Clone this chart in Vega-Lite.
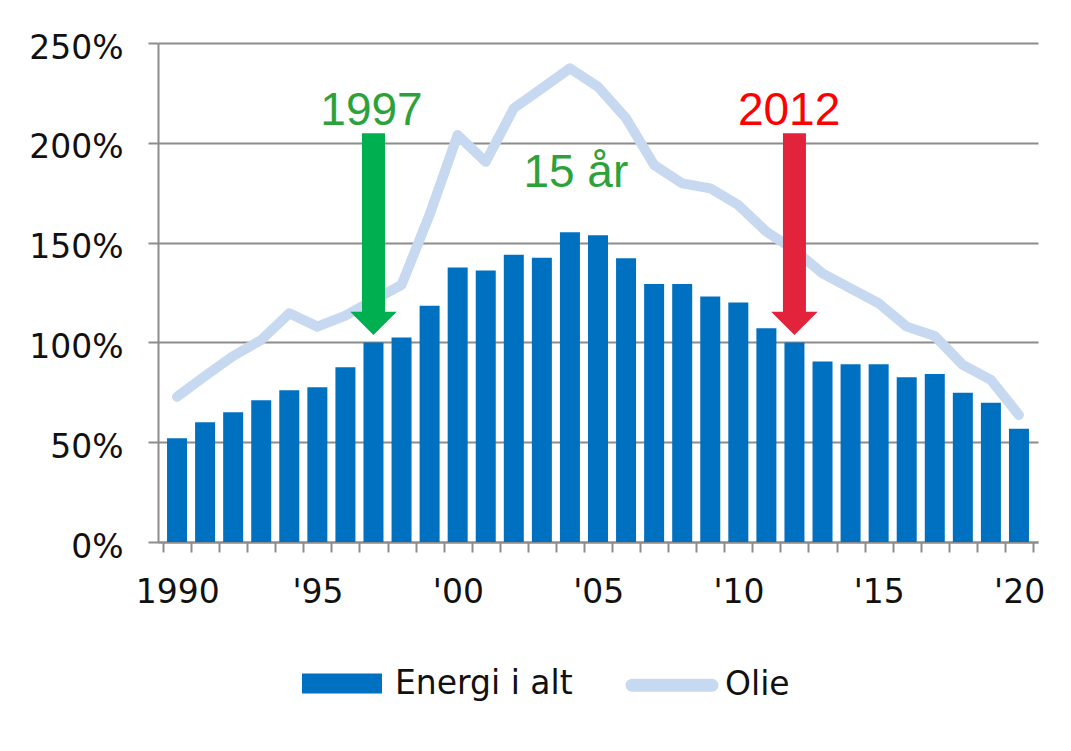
{
  "$schema": "https://vega.github.io/schema/vega-lite/v6.json",
  "width": 880,
  "height": 499,
  "autosize": {"type": "none"},
  "padding": {"left": 158, "top": 43, "right": 33, "bottom": 209},
  "background": "white",
  "config": {"view": {"stroke": null}, "font": "DejaVu Sans"},
  "datasets": {
    "main": [
      {"year": 1990, "series": "Energi i alt", "value": 52},
      {"year": 1991, "series": "Energi i alt", "value": 60},
      {"year": 1992, "series": "Energi i alt", "value": 65},
      {"year": 1993, "series": "Energi i alt", "value": 71},
      {"year": 1994, "series": "Energi i alt", "value": 76},
      {"year": 1995, "series": "Energi i alt", "value": 77.5},
      {"year": 1996, "series": "Energi i alt", "value": 87.6},
      {"year": 1997, "series": "Energi i alt", "value": 100},
      {"year": 1998, "series": "Energi i alt", "value": 102.5},
      {"year": 1999, "series": "Energi i alt", "value": 118.3},
      {"year": 2000, "series": "Energi i alt", "value": 137.5},
      {"year": 2001, "series": "Energi i alt", "value": 136},
      {"year": 2002, "series": "Energi i alt", "value": 143.9},
      {"year": 2003, "series": "Energi i alt", "value": 142.4},
      {"year": 2004, "series": "Energi i alt", "value": 155.2},
      {"year": 2005, "series": "Energi i alt", "value": 153.7},
      {"year": 2006, "series": "Energi i alt", "value": 142.2},
      {"year": 2007, "series": "Energi i alt", "value": 129.3},
      {"year": 2008, "series": "Energi i alt", "value": 129.3},
      {"year": 2009, "series": "Energi i alt", "value": 123},
      {"year": 2010, "series": "Energi i alt", "value": 120},
      {"year": 2011, "series": "Energi i alt", "value": 107.1},
      {"year": 2012, "series": "Energi i alt", "value": 100},
      {"year": 2013, "series": "Energi i alt", "value": 90.4},
      {"year": 2014, "series": "Energi i alt", "value": 89.1},
      {"year": 2015, "series": "Energi i alt", "value": 89.1},
      {"year": 2016, "series": "Energi i alt", "value": 82.5},
      {"year": 2017, "series": "Energi i alt", "value": 84.2},
      {"year": 2018, "series": "Energi i alt", "value": 74.8},
      {"year": 2019, "series": "Energi i alt", "value": 69.8},
      {"year": 2020, "series": "Energi i alt", "value": 56.8},
      {"year": 1990, "series": "Olie", "value": 72.8},
      {"year": 1991, "series": "Olie", "value": 83.2},
      {"year": 1992, "series": "Olie", "value": 93.2},
      {"year": 1993, "series": "Olie", "value": 101.2},
      {"year": 1994, "series": "Olie", "value": 114.6},
      {"year": 1995, "series": "Olie", "value": 107.9},
      {"year": 1996, "series": "Olie", "value": 113.4},
      {"year": 1997, "series": "Olie", "value": 121.2},
      {"year": 1998, "series": "Olie", "value": 128.8},
      {"year": 1999, "series": "Olie", "value": 164},
      {"year": 2000, "series": "Olie", "value": 203.9},
      {"year": 2001, "series": "Olie", "value": 190.5},
      {"year": 2002, "series": "Olie", "value": 217.3},
      {"year": 2003, "series": "Olie", "value": 227.3},
      {"year": 2004, "series": "Olie", "value": 237.3},
      {"year": 2005, "series": "Olie", "value": 228.1},
      {"year": 2006, "series": "Olie", "value": 212.3},
      {"year": 2007, "series": "Olie", "value": 188.9},
      {"year": 2008, "series": "Olie", "value": 179.7},
      {"year": 2009, "series": "Olie", "value": 177.2},
      {"year": 2010, "series": "Olie", "value": 168.8},
      {"year": 2011, "series": "Olie", "value": 155.5},
      {"year": 2012, "series": "Olie", "value": 146.3},
      {"year": 2013, "series": "Olie", "value": 134.6},
      {"year": 2014, "series": "Olie", "value": 127.1},
      {"year": 2015, "series": "Olie", "value": 119.6},
      {"year": 2016, "series": "Olie", "value": 107.9},
      {"year": 2017, "series": "Olie", "value": 103.2},
      {"year": 2018, "series": "Olie", "value": 88.7},
      {"year": 2019, "series": "Olie", "value": 81.2},
      {"year": 2020, "series": "Olie", "value": 63.6}
    ]
  },
  "layer": [
    {
      "data": {"name": "main"},
      "transform": [{"filter": "datum.series === 'Energi i alt'"}],
      "mark": {"type": "bar", "size": 20, "color": "#0070c0"},
      "encoding": {
        "x": {
          "field": "year", "type": "quantitative",
          "scale": {"domain": [1989.5, 2020.5], "nice": false, "zero": false},
          "axis": {
            "title": null,
            "tickCount": 60,
            "values": [1989.5, 1990.5, 1991.5, 1992.5, 1993.5, 1994.5, 1995.5, 1996.5, 1997.5, 1998.5, 1999.5, 2000.5, 2001.5, 2002.5, 2003.5, 2004.5, 2005.5, 2006.5, 2007.5, 2008.5, 2009.5, 2010.5, 2011.5, 2012.5, 2013.5, 2014.5, 2015.5, 2016.5, 2017.5, 2018.5, 2019.5, 2020.5],
            "labelExpr": "datum.value % 5 == 4.5 ? (datum.value == 1989.5 ? '1990' : \"'\" + substring(toString(datum.value + 0.5), 2, 4)) : ''",
            "labelOffset": 14.2,
            "grid": false,
            "domainColor": "#8c8c8c", "domainWidth": 2,
            "tickColor": "#8c8c8c", "tickWidth": 2, "tickSize": 10,
            "labelFontSize": 33, "labelFont": "DejaVu Sans", "labelColor": "#111111",
            "labelPadding": 24, "labelOverlap": false, "labelFlush": false, "labelBound": false
          }
        },
        "y": {
          "field": "value", "type": "quantitative",
          "scale": {"domain": [0, 250], "nice": false},
          "axis": {
            "title": null,
            "values": [0, 50, 100, 150, 200, 250],
            "labelExpr": "datum.value + '%'",
            "grid": true, "gridColor": "#8c8c8c", "gridWidth": 2,
            "domainColor": "#8c8c8c", "domainWidth": 2,
            "tickColor": "#8c8c8c", "tickWidth": 2, "tickSize": 10,
            "labelFontSize": 33, "labelFont": "DejaVu Sans", "labelColor": "#111111",
            "labelPadding": 25, "labelBaseline": "alphabetic", "labelOffset": 15
          }
        },
        "color": {
          "field": "series", "type": "nominal",
          "scale": {"domain": ["Energi i alt", "Olie"], "range": ["#0070c0", "#c6d9f0"]},
          "legend": {
            "title": null, "orient": "none", "legendX": 137.5, "legendY": 594,
            "direction": "horizontal", "symbolSize": 6400, "symbolStrokeWidth": 13,
            "labelFontSize": 33, "labelFont": "DejaVu Sans", "labelColor": "#111111",
            "labelOffset": 6.5, "columnPadding": 32, "padding": 0, "labelLimit": 400,
            "encode": {
              "symbols": {
                "update": {
                  "shape": {"signal": "datum.value === 'Olie' ? 'stroke' : 'M-0.8375,-0.0875L0.8375,-0.0875L0.8375,0.0875L-0.8375,0.0875Z'"},
                  "fill": {"signal": "datum.value === 'Olie' ? 'transparent' : '#0070c0'"},
                  "stroke": {"signal": "datum.value === 'Olie' ? '#c6d9f0' : '#0070c0'"},
                  "strokeWidth": {"value": 13},
                  "strokeCap": {"value": "round"},
                  "size": {"value": 6400},
                  "opacity": {"value": 1}
                }
              }
            }
          }
        }
      }
    },
    {
      "data": {"name": "main"},
      "transform": [{"filter": "datum.series === 'Olie'"}],
      "mark": {"type": "line", "strokeWidth": 10, "strokeCap": "round", "strokeJoin": "round"},
      "encoding": {
        "x": {"field": "year", "type": "quantitative"},
        "y": {"field": "value", "type": "quantitative"},
        "color": {"field": "series", "type": "nominal"}
      }
    },
    {
      "mark": {"type": "rule", "color": "#e3223c", "strokeWidth": 8},
      "encoding": {"y": {"datum": 100, "type": "quantitative"}}
    },
    {
      "data": {"values": [{"year": 1997, "value": 154.2}]},
      "mark": {"type": "point", "shape": "M-0.114,-1L0.114,-1L0.114,0.768L0.231,0.768L0,1L-0.231,0.768L-0.114,0.768Z", "size": 40683, "filled": true, "color": "#00b050", "opacity": 1, "strokeWidth": 0},
      "encoding": {
        "x": {"field": "year", "type": "quantitative"},
        "y": {"field": "value", "type": "quantitative"}
      }
    },
    {
      "data": {"values": [{"year": 2012, "value": 154.2}]},
      "mark": {"type": "point", "shape": "M-0.114,-1L0.114,-1L0.114,0.768L0.231,0.768L0,1L-0.231,0.768L-0.114,0.768Z", "size": 40683, "filled": true, "color": "#e3223c", "opacity": 1, "strokeWidth": 0},
      "encoding": {
        "x": {"field": "year", "type": "quantitative"},
        "y": {"field": "value", "type": "quantitative"}
      }
    },
    {
      "data": {"values": [
        {"year": 1996.93, "value": 208.9, "label": "1997"},
        {"year": 2004.21, "value": 178.0, "label": "15 år"}
      ]},
      "mark": {"type": "text", "font": "Liberation Sans", "fontSize": 46, "color": "#2ea23a", "align": "center", "baseline": "alphabetic"},
      "encoding": {
        "x": {"field": "year", "type": "quantitative"},
        "y": {"field": "value", "type": "quantitative"},
        "text": {"field": "label"}
      }
    },
    {
      "data": {"values": [
        {"year": 2011.81, "value": 208.9, "label": "2012"}
      ]},
      "mark": {"type": "text", "font": "Liberation Sans", "fontSize": 46, "color": "#ff0000", "align": "center", "baseline": "alphabetic"},
      "encoding": {
        "x": {"field": "year", "type": "quantitative"},
        "y": {"field": "value", "type": "quantitative"},
        "text": {"field": "label"}
      }
    }
  ]
}
